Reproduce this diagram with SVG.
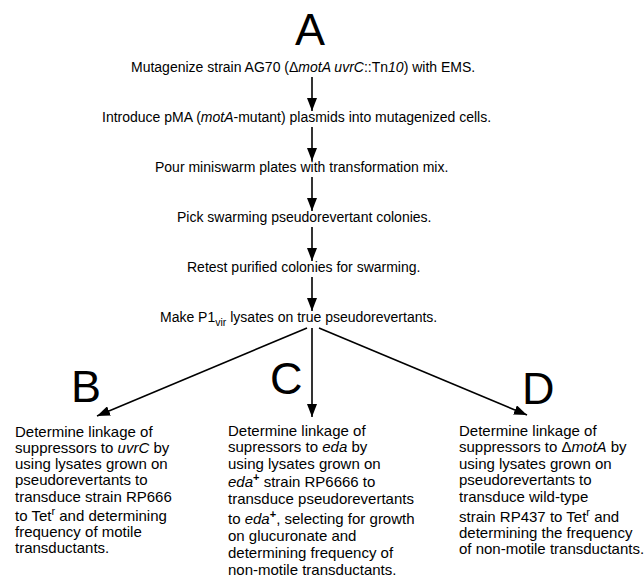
<svg xmlns="http://www.w3.org/2000/svg" width="644" height="588" viewBox="0 0 644 588">
<style>
text{font-family:"Liberation Sans",Arial,Helvetica,sans-serif;fill:#000}
.big{font-size:45px}
.step{font-size:14px}
.blk{font-size:15px}
.i{font-style:italic}
.sub{font-size:10.5px}
.sup{font-size:11px}
.conn line{stroke:#000;stroke-width:1.6;fill:none}
</style>
<defs>
<marker id="ah" viewBox="0 0 13 10" refX="13" refY="5" markerWidth="13" markerHeight="10" markerUnits="userSpaceOnUse" orient="auto">
<path d="M0,0 L13,5 L0,10 Z" fill="#000"/>
</marker>
</defs>
<g id="labelA"><text class="big" x="295" y="45">A</text></g>
<g id="step1"><text class="step" x="131" y="72">Mutagenize strain AG70 (Δ<tspan class="i">motA uvrC</tspan>::Tn<tspan class="i">10</tspan>) with EMS.</text></g>
<g id="step2"><text class="step" x="102" y="122">Introduce pMA (<tspan class="i">motA</tspan>-mutant) plasmids into mutagenized cells.</text></g>
<g id="step3"><text class="step" x="155" y="172">Pour miniswarm plates with transformation mix.</text></g>
<g id="step4"><text class="step" x="177" y="222">Pick swarming pseudorevertant colonies.</text></g>
<g id="step5"><text class="step" x="187" y="272">Retest purified colonies for swarming.</text></g>
<g id="step6"><text class="step" x="160" y="322">Make P1<tspan class="sub" dy="4">vir</tspan><tspan dy="-4"> lysates on true pseudorevertants.</tspan></text></g>
<g id="labelB"><text class="big" x="71" y="402">B</text></g>
<g id="labelC"><text class="big" x="270" y="394">C</text></g>
<g id="labelD"><text class="big" x="522" y="404">D</text></g>
<g id="branchB"><text class="blk">
<tspan x="15" y="437">Determine linkage of</tspan>
<tspan x="15" y="453">suppressors to <tspan class="i">uvrC</tspan> by</tspan>
<tspan x="15" y="469">using lysates grown on</tspan>
<tspan x="15" y="485">pseudorevertants to</tspan>
<tspan x="15" y="502">transduce strain RP666</tspan>
<tspan x="15" y="521">to Tet<tspan class="sup" dy="-6">r</tspan><tspan dy="6"> and determining</tspan></tspan>
<tspan x="15" y="537">frequency of motile</tspan>
<tspan x="15" y="553">transductants.</tspan>
</text></g>
<g id="branchC"><text class="blk">
<tspan x="228" y="436">Determine linkage of</tspan>
<tspan x="228" y="452">supressors to <tspan class="i">eda</tspan> by</tspan>
<tspan x="228" y="469">using lysates grown on</tspan>
<tspan x="228" y="487"><tspan class="i">eda</tspan><tspan class="sup" dy="-6" font-weight="bold">+</tspan><tspan dy="6"> strain RP6666 to</tspan></tspan>
<tspan x="228" y="504">transduce pseudorevertants</tspan>
<tspan x="228" y="524">to <tspan class="i">eda</tspan><tspan class="sup" dy="-6" font-weight="bold">+</tspan><tspan dy="6">, selecting for growth</tspan></tspan>
<tspan x="228" y="541">on glucuronate and</tspan>
<tspan x="228" y="558">determining frequency of</tspan>
<tspan x="228" y="575">non-motile transductants.</tspan>
</text></g>
<g id="branchD"><text class="blk">
<tspan x="459" y="436">Determine linkage of</tspan>
<tspan x="459" y="452">suppressors to Δ<tspan class="i">motA</tspan> by</tspan>
<tspan x="459" y="469">using lysates grown on</tspan>
<tspan x="459" y="485">pseudorevertants to</tspan>
<tspan x="459" y="502">transduce wild-type</tspan>
<tspan x="459" y="522">strain RP437 to Tet<tspan class="sup" dy="-6">r</tspan><tspan dy="6"> and</tspan></tspan>
<tspan x="459" y="538">determining the frequency</tspan>
<tspan x="459" y="554">of non-motile transductants.</tspan>
</text></g>
<g class="conn" id="connectors">
<line x1="312" y1="77" x2="312" y2="111" marker-end="url(#ah)"/>
<line x1="312" y1="127" x2="312" y2="161" marker-end="url(#ah)"/>
<line x1="312" y1="177" x2="312" y2="211" marker-end="url(#ah)"/>
<line x1="312" y1="227" x2="312" y2="261" marker-end="url(#ah)"/>
<line x1="312" y1="277" x2="312" y2="311" marker-end="url(#ah)"/>
<line x1="307" y1="328" x2="97" y2="416" marker-end="url(#ah)"/>
<line x1="312" y1="328" x2="312" y2="417" marker-end="url(#ah)"/>
<line x1="319" y1="328" x2="527" y2="415" marker-end="url(#ah)"/>
</g>
</svg>
